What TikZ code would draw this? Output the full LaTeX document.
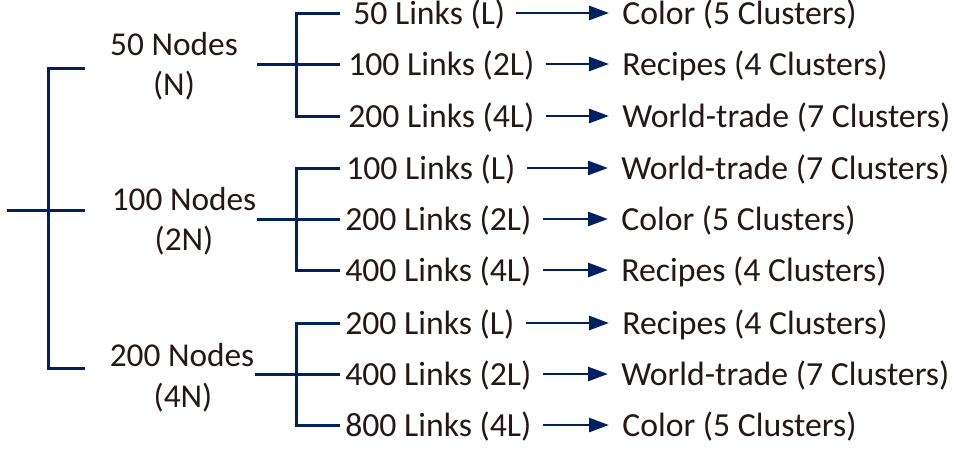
\documentclass[tikz,border=0pt]{standalone}
\usepackage{fontspec}
\setmainfont{Carlito}
\usetikzlibrary{arrows.meta}
\definecolor{navy}{RGB}{0,32,96}
\definecolor{ink}{RGB}{35,24,21}
\tikzset{
  tree/.style={draw=navy, line width=2.25pt, line join=miter, line cap=butt},
  arr/.style={draw=navy, line width=2.1pt, -{Triangle[length=15pt,width=10.5pt]}, shorten <=8.25pt, shorten >=9.75pt},
  lbl/.style={font=\fontsize{25pt}{30pt}\selectfont, text=ink, inner sep=0pt, anchor=base},
  row/.style={font=\fontsize{25.3pt}{30pt}\selectfont, text=ink, inner sep=0pt, anchor=west, text height=17pt, text depth=0pt},
}
\begin{document}
\begin{tikzpicture}[x=0.75pt,y=-0.75pt]
\path[use as bounding box] (0,0) rectangle (955,457);

% level-1 labels
\node[lbl] (n1) at (174,55) {50 Nodes};
\node[lbl] (n1b) at (174,95) {(N)};
\node[lbl] (n2) at (184,210) {100 Nodes};
\node[lbl] (n2b) at (184,250) {(2N)};
\node[lbl] (n3) at (182,366) {200 Nodes};
\node[lbl] (n3b) at (183,407) {(4N)};

% left tree
\coordinate (r0) at (7,210);
\coordinate (a1) at (85,68);
\coordinate (a2) at (85,210);
\coordinate (a3) at (85,368);
\coordinate (jt) at (48,68);
\coordinate (jb) at (48,368);
\draw[tree] (a1) -- (jt) -- (jb) -- (a3);
\draw[tree] (r0) -- (a2);

% group trees
\foreach \g/\s/\t/\m/\b in {1/257/13/64/116, 2/257/168/219/270, 3/255/323/374/425}{
  \coordinate (s\g) at (\s,\m);
  \coordinate (bt\g) at (340,\t);
  \coordinate (bm\g) at (340,\m);
  \coordinate (bb\g) at (340,\b);
  \coordinate (jt\g) at (296,\t);
  \coordinate (jb\g) at (296,\b);
  \draw[tree] (bt\g) -- (jt\g) -- (jb\g) -- (bb\g);
  \draw[tree] (s\g) -- (bm\g);
}

% link texts
\node[row] (l1) at (353,13) {50 Links (L)};
\node[row] (l2) at (348,64) {100 Links (2L)};
\node[row] (l3) at (348,116) {200 Links (4L)};
\node[row] (l4) at (346,168) {100 Links (L)};
\node[row] (l5) at (345,219) {200 Links (2L)};
\node[row] (l6) at (345,270) {400 Links (4L)};
\node[row] (l7) at (345,323) {200 Links (L)};
\node[row] (l8) at (345,374) {400 Links (2L)};
\node[row] (l9) at (345,425) {800 Links (4L)};

% targets
\node[row] (t1) at (622,13) {Color (5 Clusters)};
\node[row] (t2) at (622,64) {Recipes (4 Clusters)};
\node[row] (t3) at (622,116) {World-trade (7 Clusters)};
\node[row] (t4) at (621,168) {World-trade (7 Clusters)};
\node[row] (t5) at (621,219) {Color (5 Clusters)};
\node[row] (t6) at (621,270) {Recipes (4 Clusters)};
\node[row] (t7) at (622,323) {Recipes (4 Clusters)};
\node[row] (t8) at (621,374) {World-trade (7 Clusters)};
\node[row] (t9) at (622,425) {Color (5 Clusters)};

\foreach \i in {1,...,9}{
  \draw[arr] (l\i) -- (t\i);
}
\end{tikzpicture}
\end{document}
